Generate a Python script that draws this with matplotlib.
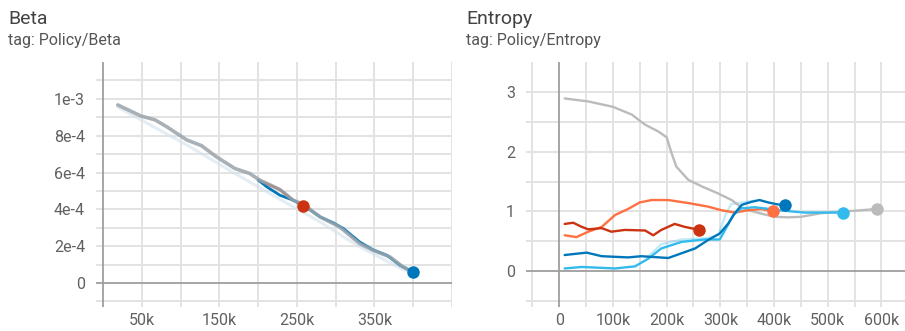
import matplotlib
matplotlib.use("Agg")
import matplotlib.pyplot as plt
from matplotlib.ticker import FixedLocator, FixedFormatter

plt.rcParams['font.family'] = ['Roboto', 'DejaVu Sans']

# ---- run colours ----
C_GRAY = '#bbbbbb'
C_RED = '#cc3311'
C_ORANGE = '#ff7043'
C_BLUE = '#0077bb'
C_CYAN = '#33bbee'

# ---- Policy/Beta (values in units of 1e-4, steps in k) ----
beta_gray_x = [19, 49, 67, 82, 108, 127, 146, 170, 189, 202, 228, 245, 258, 280, 305, 331, 348, 370, 387, 400]
beta_gray_y = [9.67, 9.07, 8.86, 8.49, 7.77, 7.46, 6.86, 6.22, 5.95, 5.59, 5.08, 4.50, 4.28, 3.59, 3.05, 2.14, 1.78, 1.42, 0.87, 0.60]
beta_pale_x = [19, 49, 108, 170, 228, 280, 331, 387, 400]
beta_pale_y = [9.55, 8.86, 7.50, 5.95, 4.55, 3.32, 1.96, 0.73, 0.60]
beta_blue_x = [200, 211, 228, 245, 258, 280, 297, 310, 331, 348, 366, 383, 400]
beta_blue_y = [5.60, 5.23, 4.77, 4.50, 4.23, 3.59, 3.27, 2.96, 2.23, 1.81, 1.51, 0.96, 0.60]
beta_red_x = [200, 228, 245, 258]
beta_red_y = [5.59, 5.08, 4.50, 4.19]

# ---- Policy/Entropy (steps in k) ----
ent_gray_x = [10, 54, 100, 135, 160, 184, 200, 209, 218, 240, 265, 296, 321, 339, 352, 377, 401, 426, 451, 488, 526, 550, 591]
ent_gray_y = [2.89, 2.84, 2.75, 2.62, 2.45, 2.34, 2.24, 1.98, 1.75, 1.53, 1.42, 1.30, 1.19, 1.07, 1.02, 0.96, 0.91, 0.90, 0.91, 0.97, 1.00, 1.01, 1.04]
ent_red_x = [10, 26, 42, 54, 79, 97, 122, 160, 175, 190, 215, 234, 261]
ent_red_y = [0.79, 0.81, 0.74, 0.70, 0.72, 0.66, 0.69, 0.68, 0.60, 0.69, 0.79, 0.74, 0.69]
ent_orange_x = [10, 32, 54, 79, 104, 128, 150, 172, 203, 240, 277, 302, 327, 352, 377, 398]
ent_orange_y = [0.60, 0.57, 0.66, 0.74, 0.94, 1.04, 1.15, 1.19, 1.19, 1.14, 1.08, 1.02, 0.98, 1.02, 1.04, 1.00]
ent_blue_x = [10, 51, 79, 128, 153, 203, 228, 253, 277, 299, 315, 327, 340, 358, 373, 389, 405, 420]
ent_blue_y = [0.27, 0.31, 0.25, 0.23, 0.25, 0.22, 0.30, 0.38, 0.52, 0.63, 0.80, 0.97, 1.11, 1.16, 1.19, 1.15, 1.12, 1.10]
ent_cyan_x = [10, 42, 104, 141, 166, 190, 228, 271, 299, 312, 324, 339, 364, 383, 408, 432, 457, 488, 529]
ent_cyan_y = [0.045, 0.07, 0.045, 0.08, 0.21, 0.38, 0.49, 0.53, 0.53, 0.74, 0.94, 1.05, 1.07, 1.05, 1.02, 1.00, 0.98, 0.98, 0.98]
ent_cyan_raw_x = [166, 190, 228, 271, 296, 310, 320, 340, 364]
ent_cyan_raw_y = [0.25, 0.45, 0.53, 0.55, 0.60, 0.95, 1.12, 1.15, 1.18]

W, H = 905, 331
fig = plt.figure(figsize=(W / 100, H / 100), dpi=100)
fig.patch.set_facecolor('white')

GRID = '#e3e3e3'
ZERO = '#9e9e9e'
TICK = '#616161'


def style(ax, xgrid, ygrid, xlim, ylim, xticks, xlabels, yticks, ylabels):
    ax.set_xlim(*xlim)
    ax.set_ylim(*ylim)
    for s in ax.spines.values():
        s.set_visible(False)
    for gx in xgrid:
        ax.axvline(gx, color=GRID, lw=1.4, zorder=0)
    for gy in ygrid:
        ax.axhline(gy, color=GRID, lw=1.4, zorder=0)
    ax.axvline(0, color=ZERO, lw=1.3, zorder=0.5)
    ax.axhline(0, color=ZERO, lw=1.3, zorder=0.5)
    ax.xaxis.set_major_locator(FixedLocator(xticks))
    ax.xaxis.set_major_formatter(FixedFormatter(xlabels))
    ax.yaxis.set_major_locator(FixedLocator(yticks))
    ax.yaxis.set_major_formatter(FixedFormatter(ylabels))
    ax.tick_params(length=0, labelsize=11.5, labelcolor=TICK)
    ax.tick_params(axis='x', pad=4)
    ax.tick_params(axis='y', pad=8)


def line(ax, x, y, color, lw=1.7, alpha=1.0, z=2):
    ax.plot(x, y, color=color, lw=lw, alpha=alpha, zorder=z,
            solid_capstyle='round', solid_joinstyle='round')


def dot(ax, x, y, color, z=5):
    ax.plot([x[-1]], [y[-1]], 'o', color=color, ms=9, mec='none', zorder=z)


# left panel
ax1 = fig.add_axes([96 / W, 24 / H, (452 - 96) / W, (307 - 62) / H])
style(ax1,
      xgrid=[50, 100, 150, 200, 250, 300, 350, 400, 450],
      ygrid=[-1, 1, 2, 3, 4, 5, 6, 7, 8, 9, 10, 11],
      xlim=(-9, 450), ylim=(-1.3, 12),
      xticks=[50, 150, 250, 350], xlabels=['50k', '150k', '250k', '350k'],
      yticks=[0, 2, 4, 6, 8, 10], ylabels=['0', '2e-4', '4e-4', '6e-4', '8e-4', '1e-3'])
line(ax1, beta_pale_x, beta_pale_y, '#d3e2ec', lw=2.2, alpha=0.6, z=1)
line(ax1, beta_red_x, beta_red_y, C_RED, lw=1.8, z=1.5)
line(ax1, beta_blue_x, beta_blue_y, C_BLUE, lw=2.0, z=2)
line(ax1, beta_gray_x, beta_gray_y, '#9aa4ab', lw=2.6, alpha=0.85, z=3)
dot(ax1, beta_red_x, beta_red_y, C_RED, z=4)
dot(ax1, beta_blue_x, beta_blue_y, C_BLUE, z=5)

# right panel
ax2 = fig.add_axes([526 / W, 24 / H, (905 - 526) / W, (307 - 62) / H])
style(ax2,
      xgrid=[-50, 50, 100, 150, 200, 250, 300, 350, 400, 450, 500, 550, 600],
      ygrid=[-0.5, 0.5, 1, 1.5, 2, 2.5, 3],
      xlim=(-62, 644), ylim=(-0.6, 3.5),
      xticks=[0, 100, 200, 300, 400, 500, 600],
      xlabels=['0', '100k', '200k', '300k', '400k', '500k', '600k'],
      yticks=[0, 1, 2, 3], ylabels=['0', '1', '2', '3'])
line(ax2, ent_cyan_raw_x, ent_cyan_raw_y, C_CYAN, lw=1.6, alpha=0.3, z=1)
line(ax2, ent_gray_x, ent_gray_y, C_GRAY, lw=1.7, z=2)
line(ax2, ent_orange_x, ent_orange_y, C_ORANGE, lw=1.7, z=2.2)
line(ax2, ent_red_x, ent_red_y, C_RED, lw=1.7, z=2.4)
line(ax2, ent_cyan_x, ent_cyan_y, C_CYAN, lw=1.7, z=2.6)
line(ax2, ent_blue_x, ent_blue_y, C_BLUE, lw=1.7, z=2.8)
dot(ax2, ent_gray_x, ent_gray_y, C_GRAY)
dot(ax2, ent_orange_x, ent_orange_y, C_ORANGE)
dot(ax2, ent_red_x, ent_red_y, C_RED)
dot(ax2, ent_cyan_x, ent_cyan_y, C_CYAN)
dot(ax2, ent_blue_x, ent_blue_y, C_BLUE)

# card headers
TITLE = '#424242'
fig.text(8 / W, 1 - 24 / H, 'Beta', fontsize=14, color=TITLE, va='baseline')
fig.text(8 / W, 1 - 45 / H, 'tag: Policy/Beta', fontsize=11.5, color='#555555', va='baseline')
fig.text(466 / W, 1 - 24 / H, 'Entropy', fontsize=14, color=TITLE, va='baseline')
fig.text(466 / W, 1 - 45 / H, 'tag: Policy/Entropy', fontsize=11.5, color='#555555', va='baseline')

fig.savefig('out.png', dpi=100, facecolor='white')
